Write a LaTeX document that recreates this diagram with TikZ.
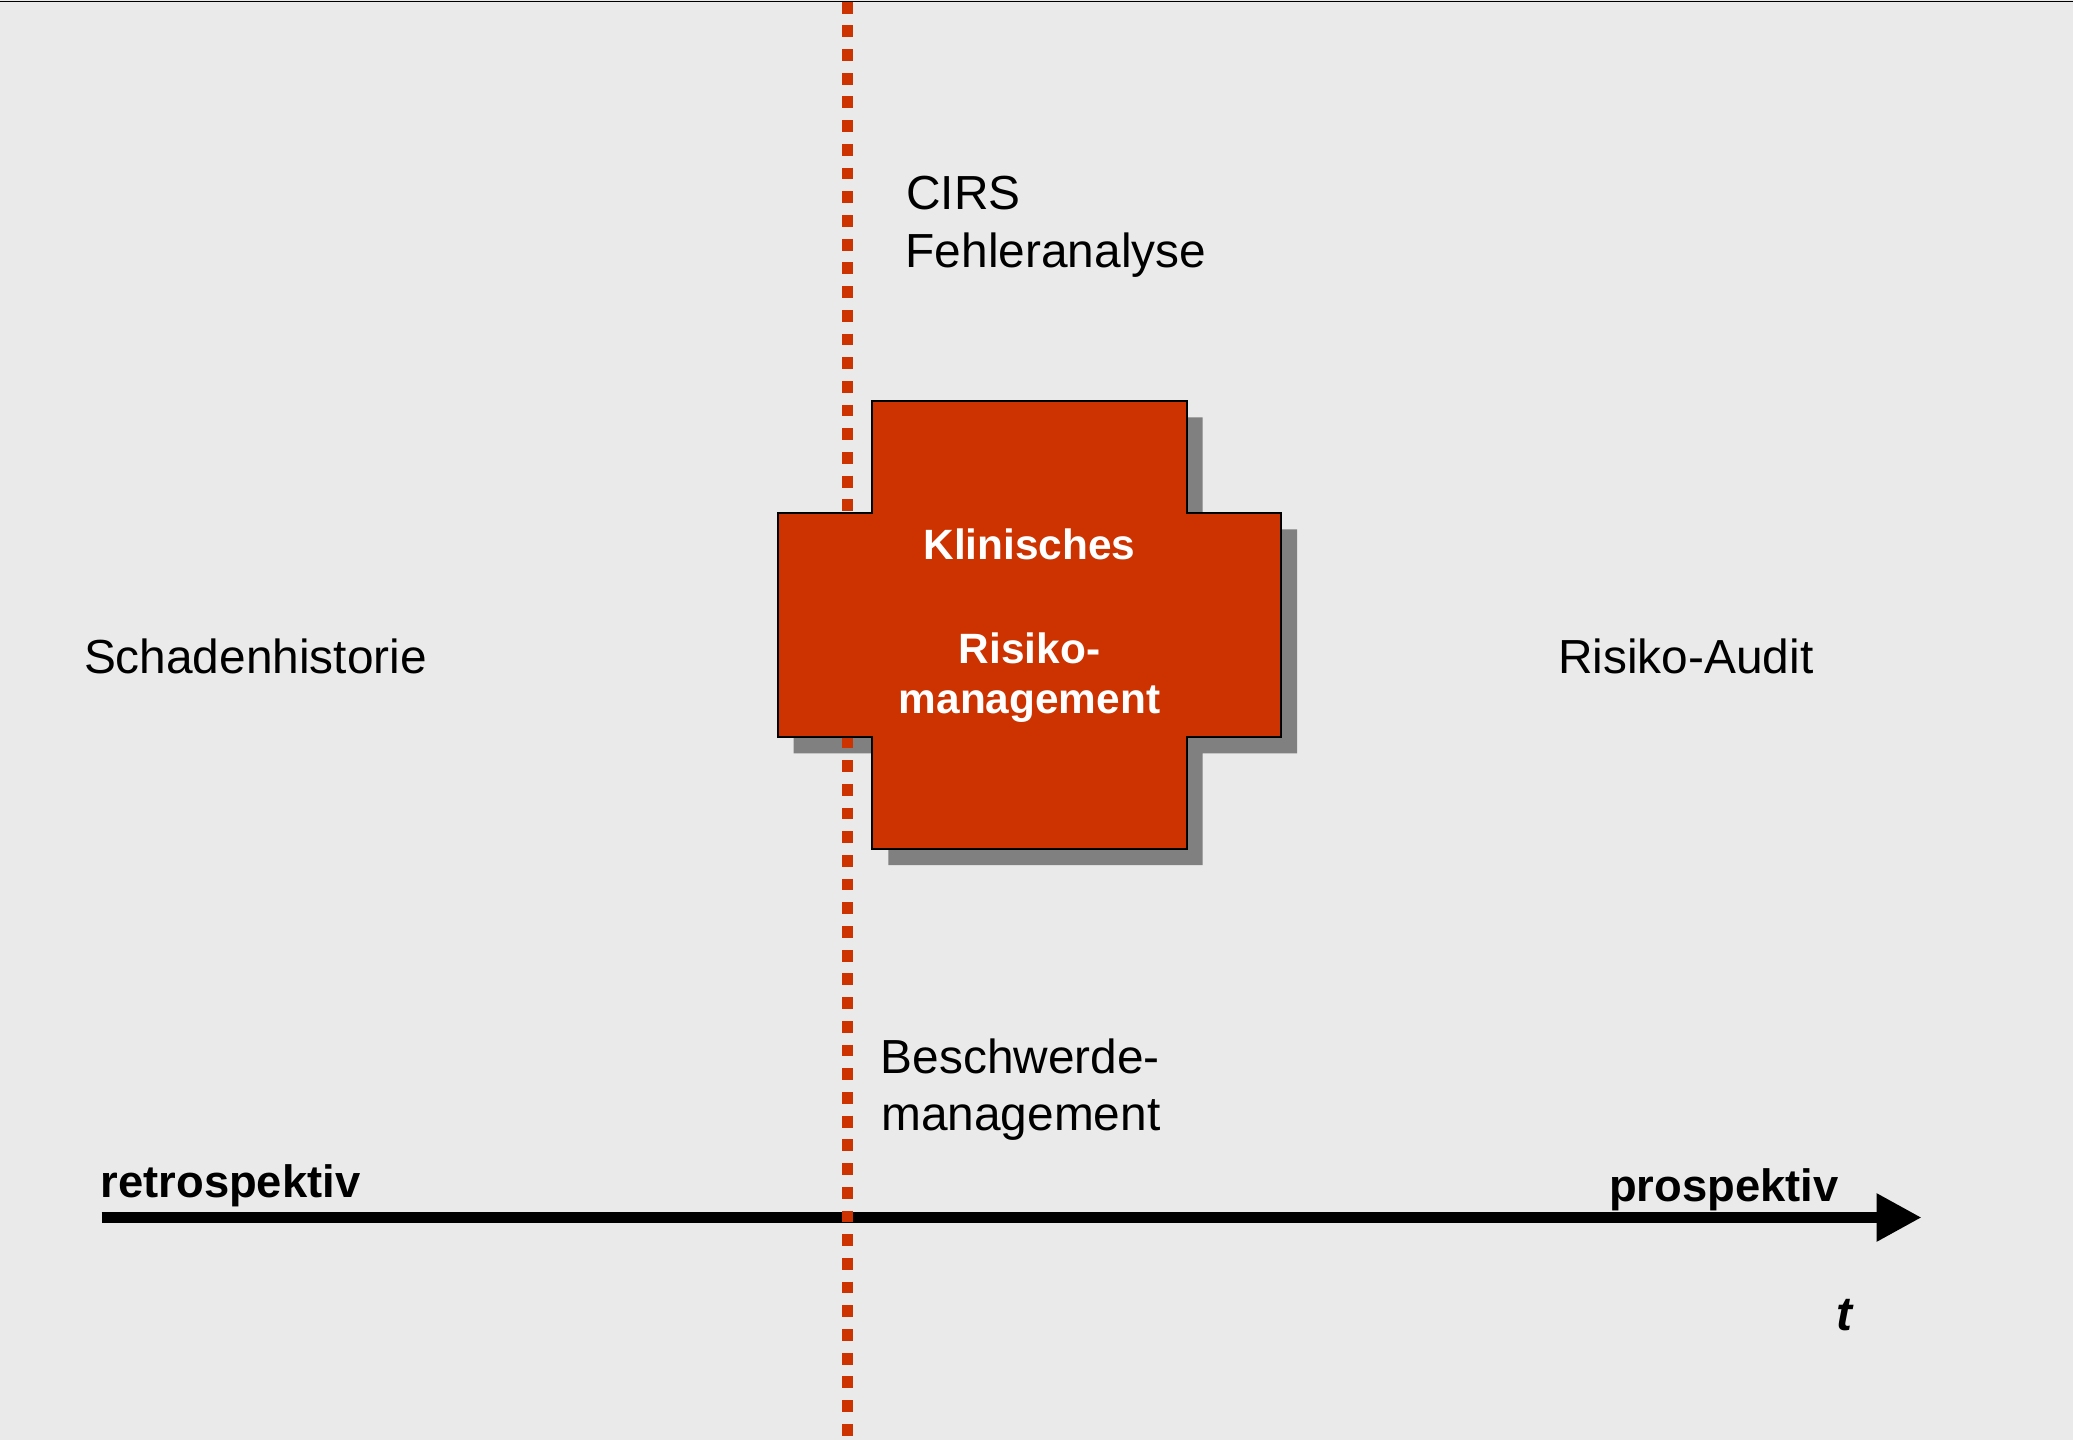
\documentclass[tikz,border=0pt]{standalone}
\usepackage{fontspec}
\setmainfont{Liberation Sans}
\usetikzlibrary{arrows.meta}
\definecolor{bg}{HTML}{EAEAEA}
\definecolor{crossred}{HTML}{CC3300}
\definecolor{shadowgray}{HTML}{808080}

\begin{document}
\begin{tikzpicture}[x=0.01cm,y=-0.01cm,
  label/.style={inner sep=0pt, anchor=base west, font=\fontsize{13.6}{16}\selectfont},
  axislabel/.style={inner sep=0pt, anchor=base west, font=\fontsize{12.9}{15}\selectfont\bfseries},
  crosstext/.style={inner sep=0pt, anchor=base, text=white, font=\fontsize{12.05}{14}\selectfont\bfseries},
  timeline/.style={line width=3.3pt, -{Triangle[length=12.8pt,width=12.8pt]}},
  divider/.style={crossred, line width=3.4pt, dash pattern=on 3.36pt off 3.38pt},
  crossshape/.pic={
    \path[pic actions] (872.3,401.3) -- (1186.7,401.3) -- (1186.7,513.3) -- (1281,513.3)
      -- (1281,737.3) -- (1186.7,737.3) -- (1186.7,849) -- (872.3,849) -- (872.3,737.3)
      -- (777.7,737.3) -- (777.7,513.3) -- (872.3,513.3) -- cycle;
  },
]
% canvas
\fill[bg] (0,0) rectangle (2073,1440);
\useasboundingbox (0,0) rectangle (2073,1440);
\draw[line width=0.4pt] (0,1.6) -- (2073,1.6);

% time axis
\coordinate (axisstart) at (101.7,1217.5);
\coordinate (axisend) at (1921.7,1217.5);
\draw[timeline] (axisstart) -- (axisend);
\node[axislabel] (retro) at (100,1197.3) {retrospektiv};
\node[axislabel] (pro) at (1608.5,1201.7) {prospektiv};
\node[inner sep=0pt, anchor=base west, font=\fontsize{13.6}{16}\selectfont\bfseries\itshape] (time) at (1836,1330) {t};

% cross shadow, divider, cross
\pic[fill=shadowgray] at (16,16) {crossshape};
\coordinate (divtop) at (847.5,1.7);
\coordinate (divbottom) at (847.5,1445);
\draw[divider] (divtop) -- (divbottom);
\pic[fill=crossred, draw=black, line width=0.55pt] at (0,0) {crossshape};

\node[crosstext] (kl1) at (1029.5,560) {Klinisches};
\node[crosstext] (kl2) at (1029.5,663.3) {Risiko-};
\node[crosstext] (kl3) at (1029.5,713.3) {management};

% surrounding methods
\node[label] (cirs) at (905.5,209.3) {CIRS};
\node[label] (fehler) at (905,267.3) {Fehleranalyse};
\node[label] (schaden) at (83.3,673.3) {Schadenhistorie};
\node[label] (audit) at (1557.5,673.3) {Risiko-Audit};
\node[label] (beschw1) at (880,1073.3) {Beschwerde-};
\node[label] (beschw2) at (880.5,1130) {management};
\end{tikzpicture}
\end{document}
